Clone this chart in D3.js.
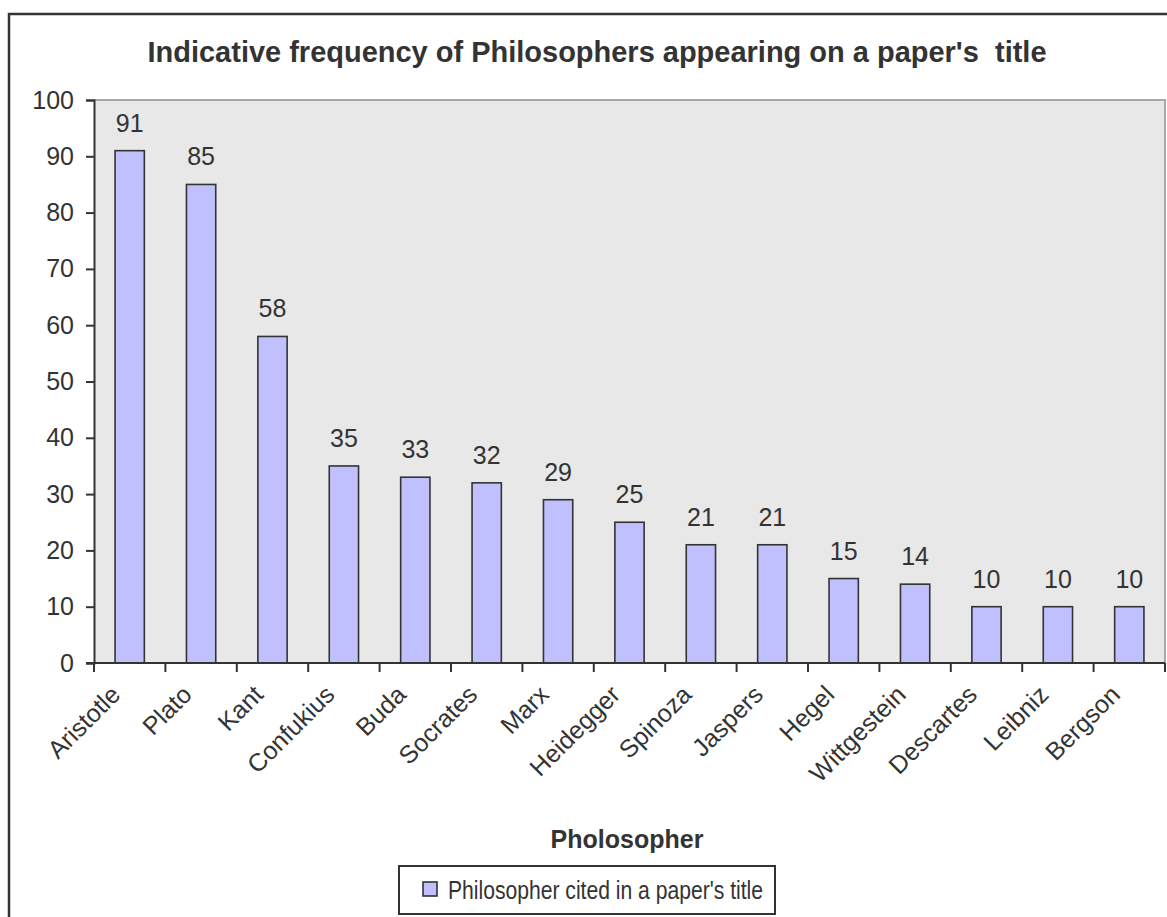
<!DOCTYPE html>
<html>
<head>
<meta charset="utf-8">
<script src="https://cdn.jsdelivr.net/npm/d3@7"></script>
<style>
  body { margin: 0; background: #fff; }
  text { font-family: "Liberation Sans", Arial, sans-serif; fill: #333; }
</style>
</head>
<body>
<svg id="chart" width="1167" height="917"></svg>
<script>
// dados
var philosophers = ["Aristotle", "Plato", "Kant", "Confukius", "Buda", "Socrates", "Marx",
  "Heidegger", "Spinoza", "Jaspers", "Hegel", "Wittgestein", "Descartes", "Leibniz", "Bergson"];
var citations = [91, 85, 58, 35, 33, 32, 29, 25, 21, 21, 15, 14, 10, 10, 10];
var yTicks = [0, 10, 20, 30, 40, 50, 60, 70, 80, 90, 100];

var titleText = "Indicative frequency of Philosophers appearing on a paper's  title",
  xTitle = "Pholosopher",
  legendText = "Philosopher cited in a paper's title";

var plot = {left: 94, top: 100, right: 1165, bottom: 663};

var svg = d3.select("#chart");

// moldura externa
svg.append("rect")
  .attr("x", 9).attr("y", 14)
  .attr("width", 1170).attr("height", 920)
  .attr("fill", "#fff")
  .attr("stroke", "#333")
  .attr("stroke-width", 2.5);

var x = d3.scaleBand()
  .domain(philosophers)
  .range([plot.left, plot.right])
  .padding(0);

var y = d3.scaleLinear()
  .domain([0, 100])
  .range([plot.bottom, plot.top]);

var barW = x.step() * 0.41;

// área do gráfico
svg.append("rect")
  .attr("x", plot.left).attr("y", plot.top)
  .attr("width", plot.right - plot.left)
  .attr("height", plot.bottom - plot.top)
  .attr("fill", "#e8e8e8");

svg.append("path")
  .attr("d", "M" + plot.left + "," + plot.top + "H" + plot.right + "V" + plot.bottom)
  .attr("fill", "none")
  .attr("stroke", "#a8a8a8")
  .attr("stroke-width", 2);

// titulo
svg.append("text")
  .attr("x", 597).attr("y", 62)
  .attr("text-anchor", "middle")
  .attr("font-size", 29)
  .attr("font-weight", "bold")
  .attr("textLength", 899)
  .attr("lengthAdjust", "spacingAndGlyphs")
  .style("white-space", "pre")
  .text(titleText);

// barras
var data = philosophers.map(function(p, i) { return {name: p, value: citations[i]}; });

svg.append("g")
  .selectAll("rect")
  .data(data)
  .enter().append("rect")
  .attr("x", function(d) { return x(d.name) + x.bandwidth() / 2 - barW / 2; })
  .attr("y", function(d) { return y(d.value); })
  .attr("width", barW)
  .attr("height", function(d) { return y(0) - y(d.value); })
  .attr("fill", "#c0c0ff")
  .attr("stroke", "#333")
  .attr("stroke-width", 1.6);

// rótulos dos valores
svg.append("g")
  .selectAll("text")
  .data(data)
  .enter().append("text")
  .attr("x", function(d) { return x(d.name) + x.bandwidth() / 2; })
  .attr("y", function(d) { return y(d.value) - 19; })
  .attr("text-anchor", "middle")
  .attr("font-size", 25)
  .text(function(d) { return d.value; });

// eixo y
var yAxis = svg.append("g")
  .attr("transform", "translate(" + plot.left + ",0)")
  .call(d3.axisLeft(y).tickValues(yTicks).tickSize(8).tickPadding(12));
yAxis.select(".domain").attr("stroke", "#333").attr("stroke-width", 2);
yAxis.selectAll(".tick line").attr("stroke", "#333").attr("stroke-width", 2);
yAxis.selectAll(".tick text")
  .attr("font-size", 25)
  .attr("font-family", "Liberation Sans, Arial, sans-serif")
  .attr("fill", "#333");

// eixo x
var xTickPos = philosophers.map(function(p) { return x(p); }).concat([plot.right]);
var xAxis = svg.append("g");
xAxis.append("line")
  .attr("x1", plot.left - 8).attr("x2", plot.right)
  .attr("y1", plot.bottom).attr("y2", plot.bottom)
  .attr("stroke", "#333").attr("stroke-width", 2);
xAxis.selectAll(".xt")
  .data(xTickPos)
  .enter().append("line")
  .attr("x1", function(d) { return d; })
  .attr("x2", function(d) { return d; })
  .attr("y1", plot.bottom).attr("y2", plot.bottom + 9)
  .attr("stroke", "#333").attr("stroke-width", 2);

xAxis.selectAll(".xl")
  .data(philosophers)
  .enter().append("text")
  .attr("text-anchor", "end")
  .attr("font-size", 25)
  .attr("transform", function(d) {
    return "translate(" + (x(d) + x.bandwidth() / 2 - 14) + "," + (plot.bottom + 27) + ") rotate(-45)";
  })
  .attr("dy", "0.35em")
  .text(function(d) { return d; });

// titulo do eixo x
svg.append("text")
  .attr("x", 627).attr("y", 848)
  .attr("text-anchor", "middle")
  .attr("font-size", 25)
  .attr("font-weight", "bold")
  .text(xTitle);

// legenda
var legend = svg.append("g");
legend.append("rect")
  .attr("x", 399).attr("y", 866)
  .attr("width", 376).attr("height", 48)
  .attr("fill", "#fff")
  .attr("stroke", "#333")
  .attr("stroke-width", 2);
legend.append("rect")
  .attr("x", 423).attr("y", 882)
  .attr("width", 14).attr("height", 14)
  .attr("fill", "#c0c0ff")
  .attr("stroke", "#333")
  .attr("stroke-width", 1.6);
legend.append("text")
  .attr("x", 448).attr("y", 899)
  .attr("font-size", 25)
  .attr("textLength", 315)
  .attr("lengthAdjust", "spacingAndGlyphs")
  .text(legendText);
</script>
</body>
</html>
